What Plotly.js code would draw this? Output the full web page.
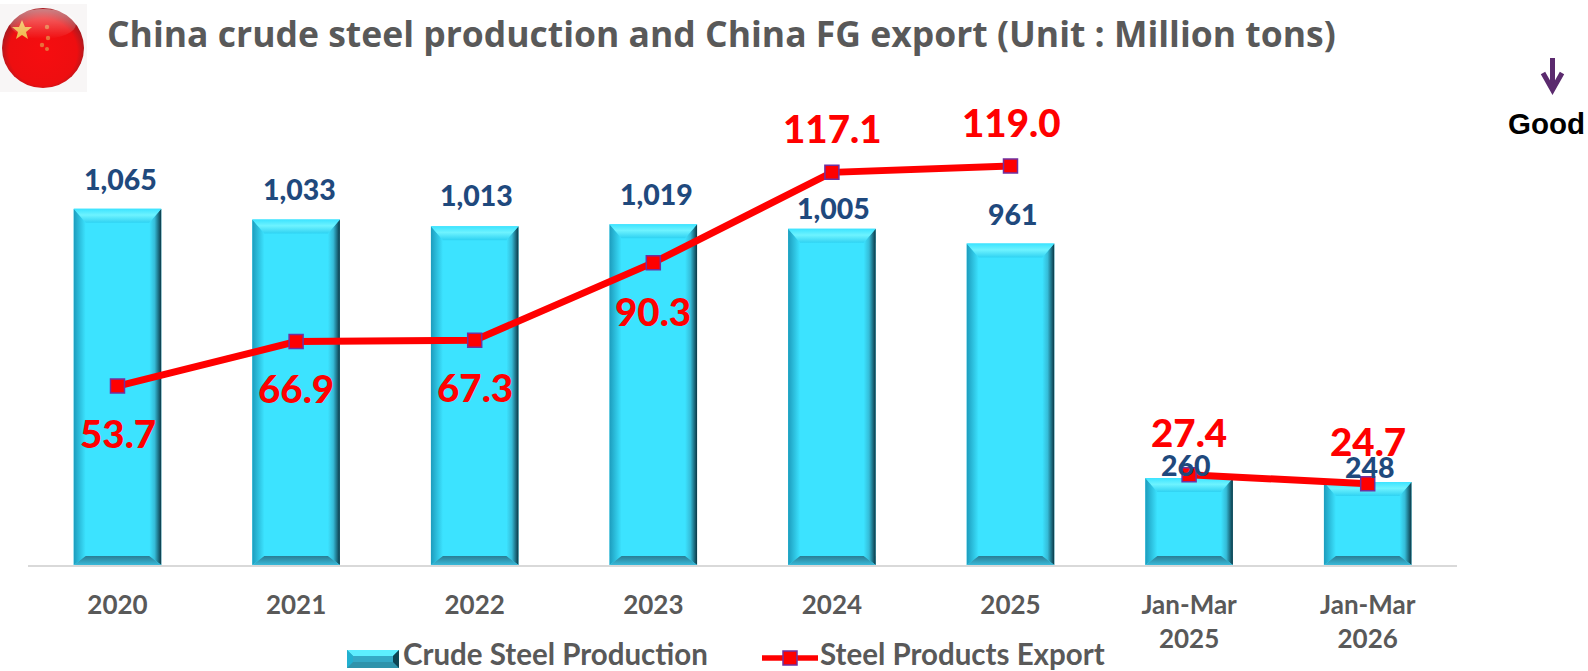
<!DOCTYPE html>
<html><head><meta charset="utf-8">
<script src="https://cdn.plot.ly/plotly-3.0.1.min.js"></script>
<style>html,body{margin:0;padding:0;background:#fff;overflow:hidden}#c{width:1588px;height:671px}</style>
</head><body><div id="c"></div>
<script>
const categories = ['2020','2021','2022','2023','2024','2025','Jan-Mar<br>2025','Jan-Mar<br>2026'];
const production = [1065,1033,1013,1019,1005,961,260,248];
const productionLabels = ['1,065','1,033','1,013','1,019','1,005','961','260','248'];
const exportsFG = [53.7,66.9,67.3,90.3,117.1,119.0,27.4,24.7];
const exportLabels = ['53.7','66.9','67.3','90.3','117.1','119.0','27.4','24.7'];
const prodLabelOffset = [[3,30],[3,30],[2,31],[3,30],[2,21],[2,30],[-3,13],[2,15]];
const expLabelOffset = [[0,-47],[0,-46],[0,-47],[0,-48],[0,44],[0,44],[0,43],[0,43]];
const gapAfterIndex = 5;
const W = 1588, H = 671;
const baseY = 565, plotL = 28.2, plotR = 1457;
const yPxPerUnit = 0.3345, y2PxPerUnit = 3.37, y2ZeroPx = 567;
const barWidth = 0.49;
const LABEL_FONT = 'Lato, Carlito, sans-serif';
const xs = categories.map((_, i) => i);
const unitX = (plotR - plotL) / categories.length;
const bevSide = 12 / unitX, bevTop = 14 / yPxPerUnit, bevBottom = 9 / yPxPerUnit;

const traces = [];
traces.push({type:'bar', name:'Crude Steel Production', x:xs, y:production, width:barWidth,
  marker:{color:'#3ce3ff', line:{width:0}}, hoverinfo:'y', showlegend:false});

function face(x, y, colorscale, type) {
  traces.push({type:'scatter', mode:'none', x, y, fill:'toself', hoverinfo:'skip', showlegend:false,
    fillgradient:{type, colorscale}});
}
production.forEach((v, i) => {
  const l = i - barWidth/2, r = i + barWidth/2, b = bevSide;
  face([l,l+b,l+b,l,l],[0,bevBottom,v-bevTop,v,0],[[0,'#1d9cbd'],[1,'#3ce3ff']],'horizontal');
  face([r,r-b,r-b,r,r],[0,bevBottom,v-bevTop,v,0],[[0,'#3ce3ff'],[0.45,'#35bcd8'],[1,'#0b3644']],'horizontal');
  face([l,r,r-b,l+b,l],[v,v,v-bevTop,v-bevTop,v],[[0,'#2fd2f2'],[0.55,'#6ef3ff'],[1,'#3ce3ff']],'vertical');
  face([l,r,r-b,l+b,l],[0,0,bevBottom,bevBottom,0],[[0,'#3ab9d8'],[1,'#2a7d94']],'vertical');
});

const lineX = [], lineY = [];
xs.forEach(i => { lineX.push(i); lineY.push(exportsFG[i]); if (i === gapAfterIndex) { lineX.push(null); lineY.push(null); } });
traces.push({type:'scatter', mode:'lines+markers', name:'Steel Products Export', x:lineX, y:lineY, yaxis:'y2',
  line:{color:'#ff0000', width:7},
  marker:{symbol:'square', size:14, color:'#ff0000', line:{color:'#7030a0', width:1.5}},
  connectgaps:false, showlegend:false, hoverinfo:'y'});

const annotations = [];
production.forEach((v, i) => annotations.push({x:i, y:v, xref:'x', yref:'y', text:productionLabels[i], showarrow:false,
  xanchor:'center', yanchor:'middle', xshift:prodLabelOffset[i][0], yshift:prodLabelOffset[i][1],
  font:{family:LABEL_FONT, size:28.5, color:'#1f497d', weight:900}}));
exportsFG.forEach((v, i) => annotations.push({x:i, y:v, xref:'x', yref:'y2', text:exportLabels[i], showarrow:false,
  xanchor:'center', yanchor:'middle', xshift:expLabelOffset[i][0], yshift:expLabelOffset[i][1],
  font:{family:LABEL_FONT, size:38.5, color:'#ff0000', weight:900}}));

const px = x => x / W, py = y => 1 - y / H;
function text(t, x, y, size, color, family, anchor) {
  annotations.push({xref:'paper', yref:'paper', x:px(x), y:py(y), text:t, showarrow:false, xanchor:anchor||'left', yanchor:'middle',
    font:{family, size, color, weight:700}});
}
text('Crude Steel Production', 401, 653, 29.5, '#595959', LABEL_FONT);
text('Steel Products Export', 818, 653, 29.5, '#595959', LABEL_FONT);
text('Good', 1546, 123, 29.5, '#000000', 'Liberation Sans', 'center');

const shapes = [];
function poly(points, fill) {
  const d = points.map((p, i) => (i ? 'L' : 'M') + px(p[0]) + ',' + py(p[1])).join('') + 'Z';
  shapes.push({type:'path', xref:'paper', yref:'paper', path:d, fillcolor:fill, line:{width:0}, layer:'above'});
}
const sx0=347, sx1=399, sy0=650, sy1=668, sb=6;
poly([[sx0,sy0],[sx1,sy0],[sx1,sy1],[sx0,sy1]], '#2f93ab');
poly([[sx0,sy0],[sx1,sy0],[sx1-sb,sy0+sb],[sx0+sb,sy0+sb]], '#5deeff');
poly([[sx0,sy0],[sx0+sb,sy0+sb],[sx0+sb,sy1-sb],[sx0,sy1]], '#22b0d0');
poly([[sx1,sy0],[sx1-sb,sy0+sb],[sx1-sb,sy1-sb],[sx1,sy1]], '#0f4554');
poly([[sx0+sb,sy0+sb],[sx1-sb,sy0+sb],[sx1-sb,sy1-sb],[sx0+sb,sy1-sb]], '#35a9c6');
shapes.push({type:'line', xref:'paper', yref:'paper', x0:px(762), x1:px(818), y0:py(658), y1:py(658), line:{color:'#ff0000', width:5.5}, layer:'above'});
shapes.push({type:'rect', xref:'paper', yref:'paper', x0:px(783), x1:px(797), y0:py(651), y1:py(665), fillcolor:'#ff0000', line:{color:'#7030a0', width:1.5}, layer:'above'});
// "Good" arrow
const arrowColor = '#5b2a6e';
shapes.push({type:'line', xref:'paper', yref:'paper', x0:px(1552.5), x1:px(1552.5), y0:py(58), y1:py(90), line:{color:arrowColor, width:5}});
shapes.push({type:'path', xref:'paper', yref:'paper', path:`M${px(1543)},${py(73)}L${px(1552.5)},${py(90)}L${px(1562)},${py(73)}`, line:{color:arrowColor, width:5}});

const flagSvg = `<svg xmlns="http://www.w3.org/2000/svg" width="87" height="88" viewBox="0 0 87 88">
<defs><radialGradient id="r" cx="50%" cy="55%" r="52%"><stop offset="0" stop-color="#f60d10"/><stop offset=".8" stop-color="#ee0e10"/><stop offset="1" stop-color="#a81a20"/></radialGradient>
<linearGradient id="g" x1="0" y1="0" x2="0" y2="1"><stop offset="0" stop-color="#fff" stop-opacity=".75"/><stop offset="1" stop-color="#fff" stop-opacity="0"/></linearGradient></defs>
<rect width="87" height="88" fill="#f8f6f6"/>
<ellipse cx="43" cy="44" rx="41" ry="40" fill="url(#r)"/>
<polygon points="22,16 25,23 32,23 26,28 28,35 22,31 16,35 18,28 12,23 19,23" fill="#f0b84a"/>
<circle cx="47" cy="23" r="2.2" fill="#e8703a"/><circle cx="48" cy="34" r="2.2" fill="#e8703a"/><circle cx="42" cy="41" r="2.2" fill="#e8703a"/><circle cx="47" cy="45" r="2" fill="#e8703a"/>
<ellipse cx="43" cy="20" rx="33" ry="15" fill="url(#g)" opacity=".6"/>
</svg>`;

const layout = {
  width:W, height:H, margin:{l:0,r:0,t:0,b:0,pad:0}, paper_bgcolor:'#fff', plot_bgcolor:'#fff', showlegend:false,
  title:{text:'China crude steel production and China FG export (Unit : Million tons)', x:107/W, xanchor:'left', y:1-35/H, yanchor:'middle',
    font:{family:'"Open Sans", sans-serif', size:35.5, color:'#595959', weight:700}},
  xaxis:{domain:[plotL/W, plotR/W], range:[-0.5, categories.length-0.5], tickmode:'array', tickvals:xs, ticktext:categories,
    showgrid:false, zeroline:false, showline:true, linecolor:'#d9d9d9', linewidth:2, ticks:'', ticklabelstandoff:16,
    tickfont:{family:LABEL_FONT, size:26, color:'#595959', weight:700}},
  yaxis:{domain:[1-baseY/H, 1], range:[0, baseY/yPxPerUnit], visible:false, showgrid:false, zeroline:false},
  yaxis2:{domain:[1-baseY/H, 1], overlaying:'y', side:'right', range:[(y2ZeroPx-baseY)/y2PxPerUnit, y2ZeroPx/y2PxPerUnit], visible:false, showgrid:false, zeroline:false},
  annotations, shapes, hovermode:'closest',
  images:[{source:'data:image/svg+xml,'+encodeURIComponent(flagSvg), xref:'paper', yref:'paper', x:0, y:py(4), sizex:87/W, sizey:88/H, xanchor:'left', yanchor:'top', sizing:'stretch', layer:'below'}]
};
Plotly.newPlot('c', traces, layout, {displayModeBar:false, responsive:false});
</script></body></html>
